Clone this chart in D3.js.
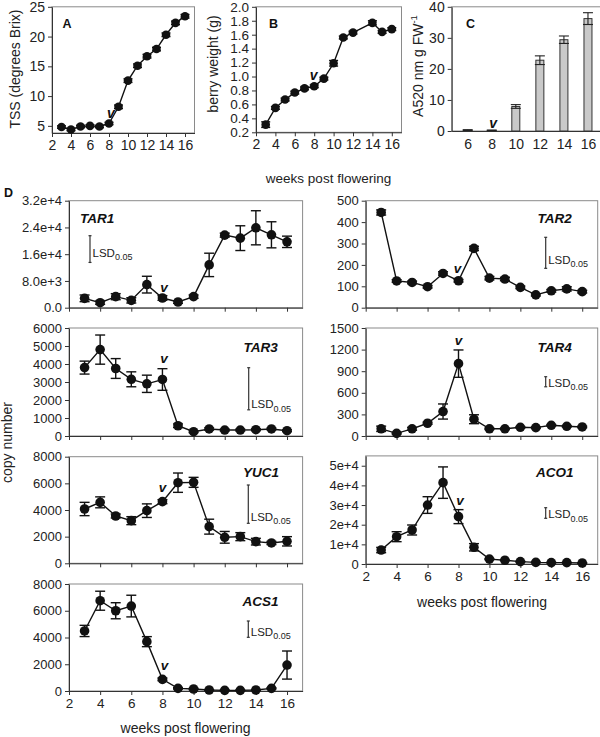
<!DOCTYPE html>
<html><head><meta charset="utf-8">
<script src="https://cdn.jsdelivr.net/npm/d3@7"></script>
<style>
body{margin:0;background:#fff}
svg{display:block;font-family:"Liberation Sans",Arial,sans-serif}
</style>
</head><body>
<svg id="c" width="600" height="737"></svg>
<script>
// ---------------- DATA ----------------
const weeks = [3,4,5,6,7,8,9,10,11,12,13,14,15,16];
const xTicks = [2,4,6,8,10,12,14,16];

const tssMean = [4.8,4.4,4.9,5.0,4.9,5.4,8.2,12.6,15.1,16.7,17.9,20.3,22.3,23.4];
const tssErr  = [0.2,0.2,0.2,0.2,0.2,0.2,0.3,0.3,0.3,0.3,0.3,0.3,0.3,0.3];
const tssTicks = [5,10,15,20,25];

const weightWeeks = [3,4,5,6,7,8,9,10,11,12,14,15,16];
const weightMean = [0.31,0.55,0.67,0.77,0.83,0.86,0.97,1.19,1.56,1.63,1.77,1.64,1.68];
const weightErr  = [0.04,0.02,0.02,0.02,0.02,0.02,0.02,0.04,0.02,0.02,0.03,0.02,0.02];
const weightTicks = [0.2,0.4,0.6,0.8,1.0,1.2,1.4,1.6,1.8,2.0];

const anthoWeeks = [6,8,10,12,14,16];
const anthoMean = [0.3,0.2,7.9,22.8,29.4,36.2];
const anthoErr  = [0.1,0.1,0.6,1.4,1.2,1.9];
const anthoTicks = [0,10,20,30,40];

const tar1Mean = [2800,1500,3300,2200,6900,2900,1700,3300,12800,21700,20800,23900,21800,19700];
const tar1Err  = [1000,500,900,800,2500,700,400,500,3500,600,3700,5100,3900,1700];
const tar1Ticks = [0,8000,16000,24000,32000];
const tar1LSD = 8000;

const tar2Mean = [445,125,118,98,160,126,277,138,134,95,60,79,88,75];
const tar2Err  = [12,6,6,6,8,6,10,8,8,6,5,6,10,6];
const tar2Ticks = [0,100,200,300,400,500];
const tar2LSD = 145;

const tar3Mean = [3800,4800,3750,3150,2900,3140,570,240,390,330,330,350,390,295];
const tar3Err  = [360,810,550,415,480,600,100,50,60,50,50,50,50,50];
const tar3Ticks = [0,1000,2000,3000,4000,5000,6000];
const tar3LSD = 2340;

const tar4Mean = [100,37,100,177,340,1005,233,100,100,121,116,149,135,126];
const tar4Err  = [37,10,20,15,105,190,62,10,10,10,10,10,10,10];
const tar4Ticks = [0,300,600,900,1200,1500];
const tar4LSD = 140;

const yuc1Mean = [4075,4575,3550,3200,3950,4625,6050,6075,2750,1950,2000,1625,1525,1650];
const yuc1Err  = [500,410,150,300,510,150,725,375,560,440,300,250,120,350];
const yuc1Ticks = [0,2000,4000,6000,8000];
const yuc1LSD = 2875;

const aco1Mean = [7100,13900,17300,30000,41400,24100,8500,2500,1900,1200,850,700,700,500];
const aco1Err  = [1350,2540,2540,4240,8000,3560,1860,300,200,200,150,150,150,100];
const aco1Ticks = [0,10000,20000,30000,40000,50000];
const aco1LSD = 5400;

const acs1Mean = [4490,6750,6000,6350,3690,870,200,150,75,50,50,75,200,1940];
const acs1Err  = [420,710,600,810,375,100,50,50,30,30,30,30,50,1050];
const acs1Ticks = [0,2000,4000,6000,8000];
const acs1LSD = 1220;

// ---------------- DRAWING ----------------
const svg = d3.select("#c");
const INK = "#111", AX = "#333", TXT = "#222";

function styleAxis(sel, fs){
  sel.select(".domain").attr("stroke", AX).attr("stroke-width", 1);
  sel.selectAll(".tick line").attr("stroke", AX);
  sel.selectAll(".tick text").attr("fill", TXT).attr("font-size", fs)
     .attr("font-family", '"Liberation Sans",Arial,sans-serif');
}

function frame(xr, yr){
  svg.append("rect").attr("x", xr[0]).attr("y", yr[1])
    .attr("width", xr[1]-xr[0]).attr("height", yr[0]-yr[1])
    .attr("fill", "none").attr("stroke", "#8a8a8a").attr("stroke-width", 1);
}

function vMark(x, y, fs){
  svg.append("text").attr("x", x).attr("y", y).attr("text-anchor","middle")
    .attr("font-size", fs).attr("font-weight","bold").attr("font-style","italic")
    .attr("fill", INK).text("v");
}

function linePanel(c){
  const x = d3.scaleLinear().domain(c.xdom).range(c.xr);
  const y = d3.scaleLinear().domain(c.ydom).range(c.yr);
  frame(c.xr, c.yr);
  const ya = svg.append("g").attr("transform", `translate(${c.xr[0]},0)`)
    .call(d3.axisLeft(y).tickValues(c.yticks).tickFormat(c.yfmt).tickSize(4).tickSizeOuter(0));
  styleAxis(ya, c.fs);
  const xa = svg.append("g").attr("transform", `translate(0,${c.yr[0]})`)
    .call(d3.axisBottom(x).tickValues(xTicks).tickFormat(c.showX ? d3.format("d") : "").tickSize(4).tickSizeOuter(0));
  styleAxis(xa, c.fsx || c.fs);

  const pts = c.xs.map((w,i)=>({w, m:c.mean[i], e:c.err[i]}));
  svg.append("path").datum(pts).attr("fill","none").attr("stroke",INK).attr("stroke-width",1.4)
    .attr("d", d3.line().x(d=>x(d.w)).y(d=>y(d.m)));
  const eg = svg.append("g").attr("stroke", INK).attr("stroke-width", 1.4);
  pts.forEach(d=>{
    const x0 = x(d.w), yl = y(d.m - d.e), yh = y(d.m + d.e);
    eg.append("line").attr("x1",x0).attr("x2",x0).attr("y1",yl).attr("y2",yh);
    eg.append("line").attr("x1",x0-c.cap).attr("x2",x0+c.cap).attr("y1",yl).attr("y2",yl);
    eg.append("line").attr("x1",x0-c.cap).attr("x2",x0+c.cap).attr("y1",yh).attr("y2",yh);
  });
  svg.append("g").selectAll("circle").data(pts).join("circle")
    .attr("cx", d=>x(d.w)).attr("cy", d=>y(d.m)).attr("r", c.r).attr("fill", INK);

  if (c.gene){
    svg.append("text").attr("x", c.geneX).attr("y", c.geneY)
      .attr("font-size", 13.5).attr("font-weight","bold").attr("font-style","italic")
      .attr("fill", INK).text(c.gene);
  }
  if (c.lsd){
    const h = y(0) - y(c.lsd);
    const g = svg.append("g").attr("stroke", AX).attr("stroke-width", 1.2);
    g.append("line").attr("x1",c.lsdX).attr("x2",c.lsdX).attr("y1",c.lsdTop).attr("y2",c.lsdTop+h);
    g.append("line").attr("x1",c.lsdX-1.5).attr("x2",c.lsdX+1.5).attr("y1",c.lsdTop).attr("y2",c.lsdTop);
    g.append("line").attr("x1",c.lsdX-1.5).attr("x2",c.lsdX+1.5).attr("y1",c.lsdTop+h).attr("y2",c.lsdTop+h);
    const t = svg.append("text").attr("x", c.lsdX+2.5).attr("y", c.lsdTextY)
      .attr("font-size", 11.5).attr("fill", TXT);
    t.append("tspan").text("LSD");
    t.append("tspan").attr("font-size", 9).attr("dy", 3.5).text("0.05");
  }
  if (c.vY) vMark(x(8)+ (c.vDx||0), c.vY, c.vfs || 13.5);
  return {x,y};
}

// ---- Panel A ----
linePanel({xdom:[2,17], xr:[52,194.5], ydom:[3.8,25], yr:[133,6.8], yticks:tssTicks,
  yfmt:d3.format("d"), xs:weeks, mean:tssMean, err:tssErr, showX:true, fs:14, r:4.3, cap:4.5,
  vY:117.5, vDx:2, vfs:14});
svg.append("text").attr("x",62.5).attr("y",28.3).attr("font-size",12.5).attr("font-weight","bold").attr("fill",INK).text("A");
svg.append("text").attr("transform","translate(20,69) rotate(-90)").attr("text-anchor","middle")
  .attr("font-size",14).attr("fill",TXT).text("TSS (degrees Brix)");

// ---- Panel B ----
linePanel({xdom:[2,17], xr:[256,401.5], ydom:[0.2,2.0], yr:[132.3,6.8], yticks:weightTicks,
  yfmt:d3.format(".1f"), xs:weightWeeks, mean:weightMean, err:weightErr, showX:true, fs:13.5, fsx:14, r:4.3, cap:4.5,
  vY:80, vDx:-0.5, vfs:14});
svg.append("text").attr("x",269).attr("y",27.7).attr("font-size",12.5).attr("font-weight","bold").attr("fill",INK).text("B");
svg.append("text").attr("transform","translate(218,64) rotate(-90)").attr("text-anchor","middle")
  .attr("font-size",14).attr("fill",TXT).text("berry weight (g)");
svg.append("text").attr("x",328.5).attr("y",183).attr("text-anchor","middle")
  .attr("font-size",13.5).attr("fill",TXT).text("weeks post flowering");

// ---- Panel C (bars) ----
{
  const xr = [451.7, 600], yr = [131, 6.8];
  const x = d3.scaleLinear().domain([4.67,17]).range(xr);
  const y = d3.scaleLinear().domain([0,40]).range(yr);
  frame([xr[0], 612], yr);
  const ya = svg.append("g").attr("transform",`translate(${xr[0]},0)`)
    .call(d3.axisLeft(y).tickValues(anthoTicks).tickFormat(d3.format("d")).tickSize(4).tickSizeOuter(0));
  styleAxis(ya, 14);
  const xa = svg.append("g").attr("transform",`translate(0,${yr[0]})`)
    .call(d3.axisBottom(x).tickValues(anthoWeeks).tickFormat(d3.format("d")).tickSize(0).tickPadding(8).tickSizeOuter(0));
  styleAxis(xa, 14);
  const bw = 8;
  svg.append("g").selectAll("rect").data(anthoWeeks.map((w,i)=>({w,m:anthoMean[i],e:anthoErr[i]})))
    .join("rect").attr("x",d=>x(d.w)-bw/2).attr("y",d=>y(d.m)).attr("width",bw)
    .attr("height",d=>y(0)-y(d.m)).attr("fill","#c9c9c9").attr("stroke","#333").attr("stroke-width",1);
  const eg = svg.append("g").attr("stroke","#222").attr("stroke-width",1.1);
  anthoWeeks.forEach((w,i)=>{
    const x0=x(w), yl=y(anthoMean[i]-anthoErr[i]), yh=y(anthoMean[i]+anthoErr[i]);
    eg.append("line").attr("x1",x0).attr("x2",x0).attr("y1",yl).attr("y2",yh);
    eg.append("line").attr("x1",x0-5).attr("x2",x0+5).attr("y1",yl).attr("y2",yl);
    eg.append("line").attr("x1",x0-5).attr("x2",x0+5).attr("y1",yh).attr("y2",yh);
  });
  vMark(x(8)+1.5, 127.7, 14);
  svg.append("text").attr("x",466).attr("y",27.5).attr("font-size",12.5).attr("font-weight","bold").attr("fill",INK).text("C");
  const t = svg.append("text").attr("transform","translate(423,66) rotate(-90)").attr("text-anchor","middle")
    .attr("font-size",14).attr("fill",TXT);
  t.append("tspan").text("A520 nm g FW");
  t.append("tspan").attr("font-size",9.5).attr("dy",-6).text("-1");
}

// ---- Panel D ----
svg.append("text").attr("x",4).attr("y",196.5).attr("font-size",12.5).attr("font-weight","bold").attr("fill",INK).text("D");
const L = [69,302.6], R = [365.7,597.7];
const sci1 = d => d === 0 ? "0.0" : d3.format(".1e")(d);
const sci0 = d => d === 0 ? "0" : d3.format(".0e")(d);
const base = {xdom:[2,17], xs:weeks, fs:13, r:4.8, cap:5};

linePanel({...base, xr:L, ydom:[0,32000], yr:[307.7,200.7], yticks:tar1Ticks, yfmt:sci1,
  mean:tar1Mean, err:tar1Err, gene:"TAR1", geneX:80, geneY:223,
  lsd:tar1LSD, lsdX:90, lsdTop:235.7, lsdTextY:256.5, vY:291.5, vDx:1.5});
linePanel({...base, xr:R, ydom:[0,500], yr:[307.7,200.7], yticks:tar2Ticks, yfmt:d3.format("d"),
  mean:tar2Mean, err:tar2Err, gene:"TAR2", geneX:537.5, geneY:223,
  lsd:tar2LSD, lsdX:545.7, lsdTop:237.3, lsdTextY:263.5, vY:273.3, vDx:-1});
linePanel({...base, xr:L, ydom:[0,6000], yr:[436,328], yticks:tar3Ticks, yfmt:d3.format("d"),
  mean:tar3Mean, err:tar3Err, gene:"TAR3", geneX:243.5, geneY:351.7,
  lsd:tar3LSD, lsdX:248.7, lsdTop:367.7, lsdTextY:408.3, vY:363.3, vDx:1.5});
linePanel({...base, xr:R, ydom:[0,1500], yr:[436,328], yticks:tar4Ticks, yfmt:d3.format("d"),
  mean:tar4Mean, err:tar4Err, gene:"TAR4", geneX:537.5, geneY:351.7,
  lsd:tar4LSD, lsdX:545.7, lsdTop:376.7, lsdTextY:386.7, vY:345, vDx:0});
linePanel({...base, xr:L, ydom:[0,8000], yr:[563.3,456.7], yticks:yuc1Ticks, yfmt:d3.format("d"),
  mean:yuc1Mean, err:yuc1Err, gene:"YUC1", geneX:243, geneY:477.3,
  lsd:yuc1LSD, lsdX:248.3, lsdTop:485, lsdTextY:520.7, vY:492, vDx:0});
linePanel({...base, xr:R, ydom:[0,55000], yr:[564,455.9], yticks:aco1Ticks, yfmt:sci0,
  mean:aco1Mean, err:aco1Err, gene:"ACO1", geneX:536, geneY:477.3, showX:true, fsx:13.5,
  lsd:aco1LSD, lsdX:545.7, lsdTop:507.7, lsdTextY:518, vY:505, vDx:1.5});
linePanel({...base, xr:L, ydom:[0,8000], yr:[691,584], yticks:acs1Ticks, yfmt:d3.format("d"),
  mean:acs1Mean, err:acs1Err, gene:"ACS1", geneX:242.5, geneY:605.7, showX:true, fsx:13.5,
  lsd:acs1LSD, lsdX:248.3, lsdTop:621, lsdTextY:635.7, vY:670, vDx:2});

svg.append("text").attr("transform","translate(12,442.5) rotate(-90)").attr("text-anchor","middle")
  .attr("font-size",14).attr("fill",TXT).text("copy number");
svg.append("text").attr("x",482).attr("y",607).attr("text-anchor","middle")
  .attr("font-size",14).attr("fill",TXT).text("weeks post flowering");
svg.append("text").attr("x",185.5).attr("y",733).attr("text-anchor","middle")
  .attr("font-size",14).attr("fill",TXT).text("weeks post flowering");
</script>
</body></html>
